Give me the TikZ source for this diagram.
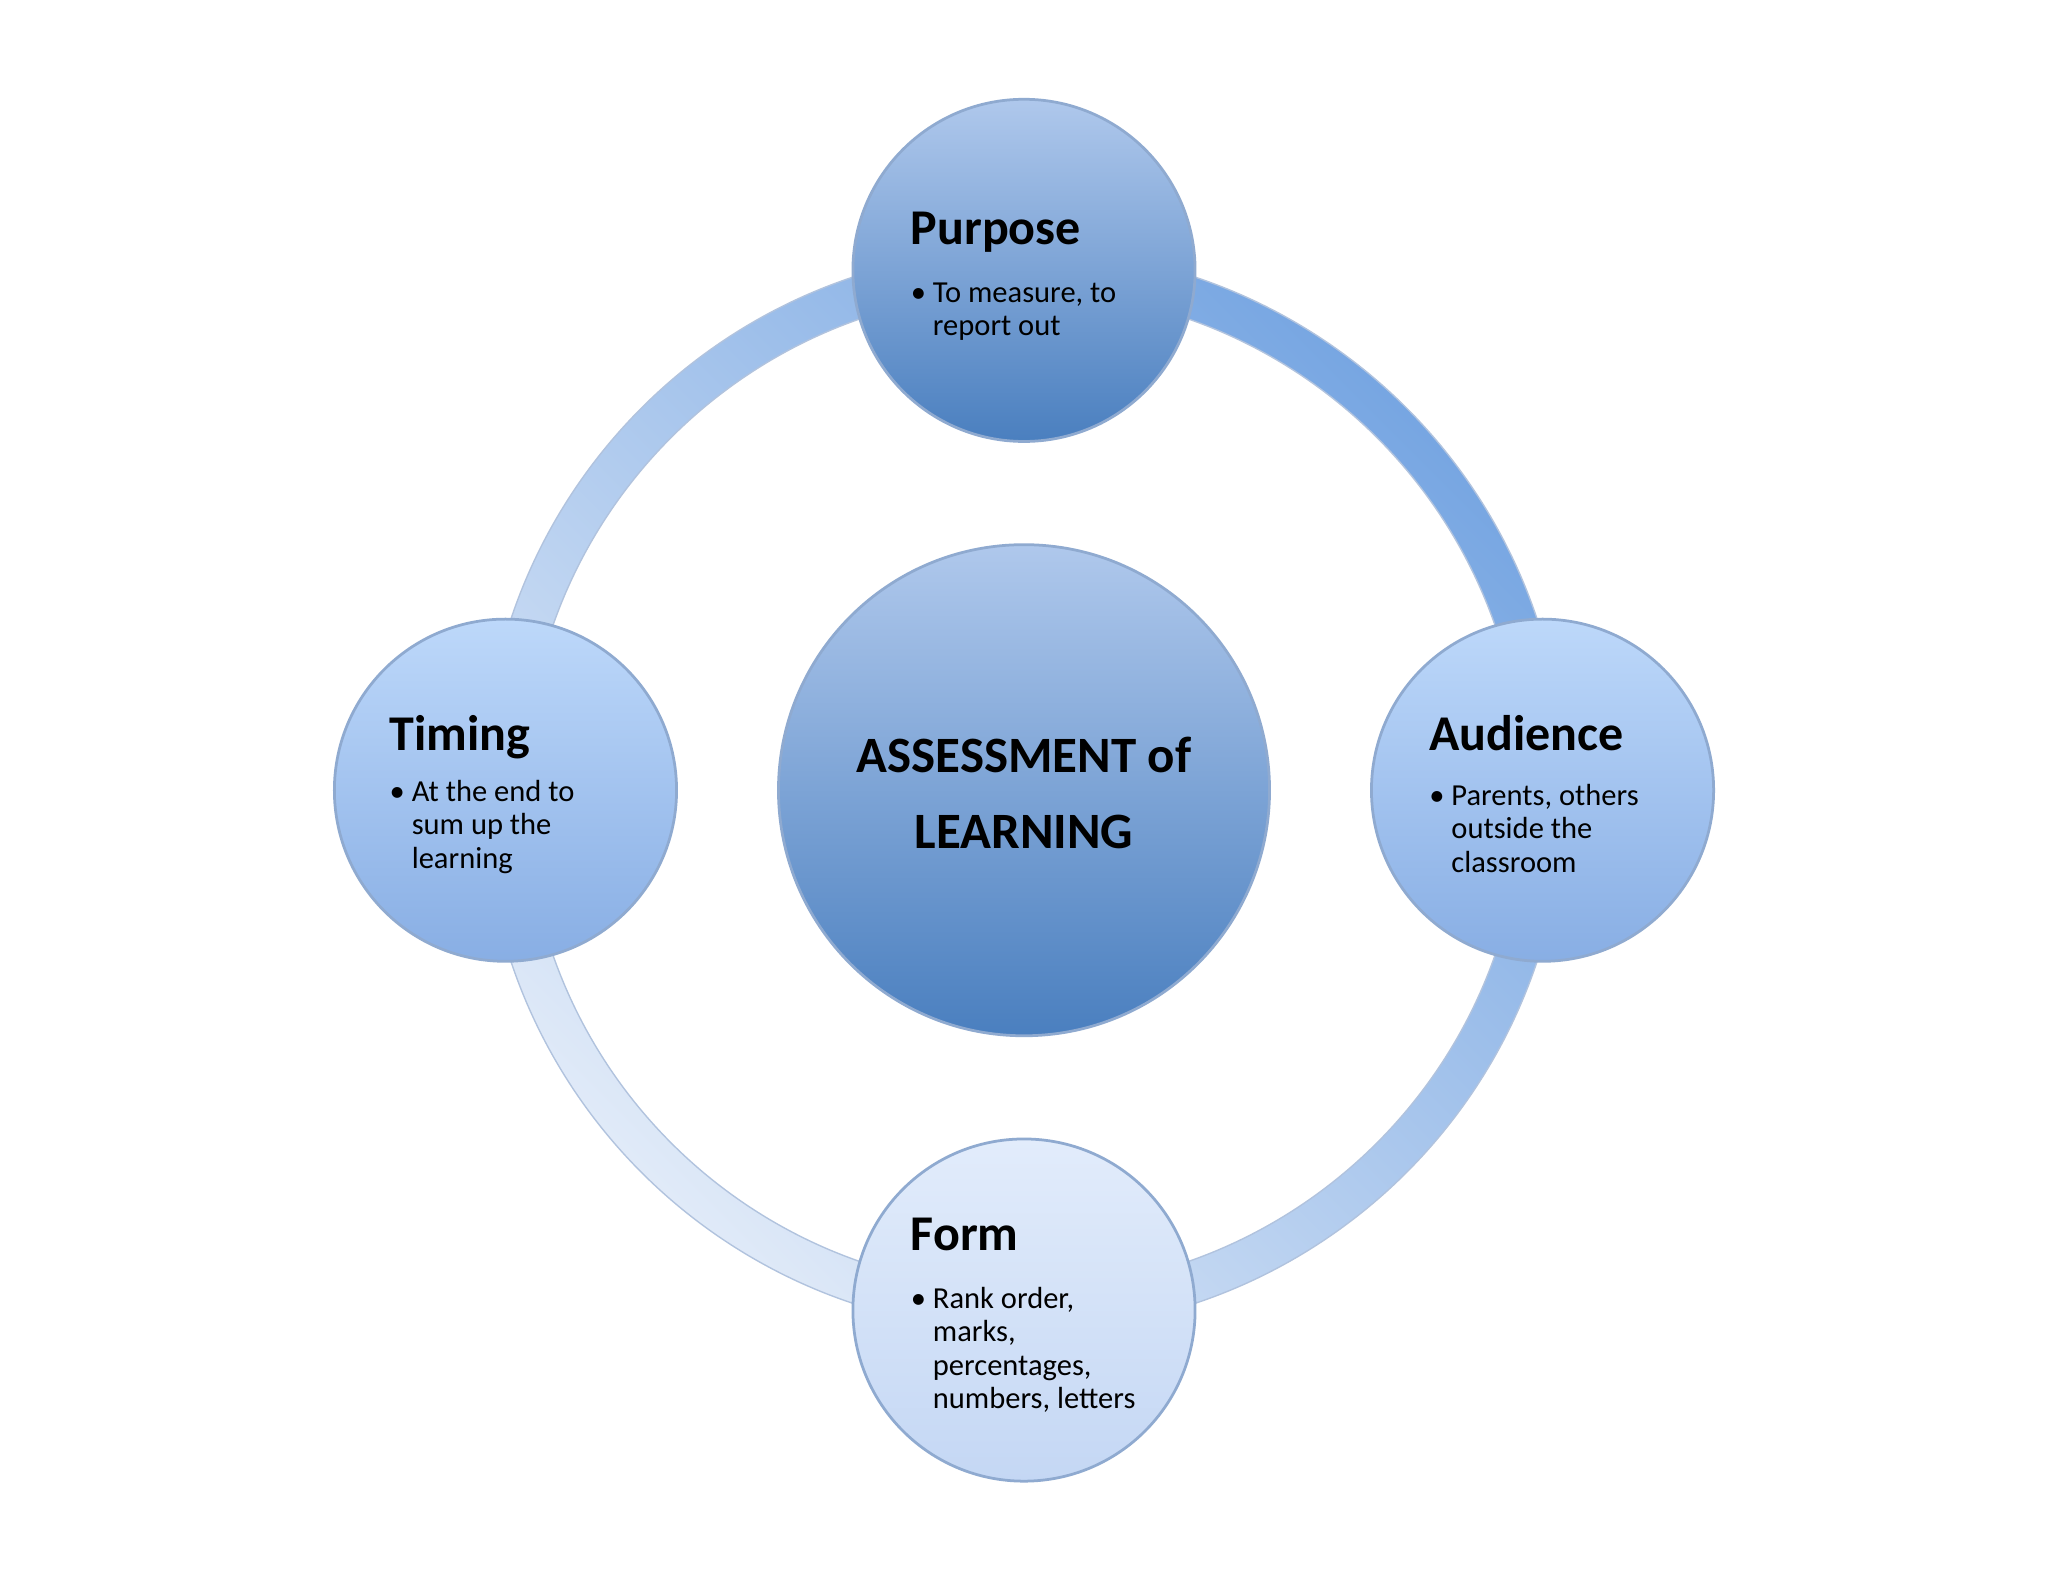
\documentclass[tikz,border=0pt]{standalone}
\usepackage{fontspec}
\setmainfont{Carlito}
\definecolor{dkA}{HTML}{4A7FBF}
\definecolor{ltA}{HTML}{AFC8EC}
\definecolor{dkB}{HTML}{88AEE4}
\definecolor{ltB}{HTML}{BDD8FA}
\definecolor{dkC}{HTML}{C4D7F4}
\definecolor{ltC}{HTML}{E2ECFB}
\definecolor{ringD}{HTML}{77A6E2}
\definecolor{ringL}{HTML}{E0EAF8}
\definecolor{edge}{HTML}{8FAAD0}
\begin{document}
\begin{tikzpicture}[x=0.02cm,y=-0.02cm,
  ball/.style={circle,draw=edge,line width=1.2pt,inner sep=0pt},
  ttl/.style={font=\fontsize{21.8}{24}\selectfont\bfseries,anchor=north west,inner sep=0pt},
  bul/.style={font=\fontsize{13.3}{14.6}\selectfont,anchor=north west,align=left,inner sep=0pt},
  ctr/.style={font=\fontsize{22.2}{33}\selectfont\bfseries,align=center}]
\useasboundingbox (0,0) rectangle (1568,1211);
\fill[white] (0,0) rectangle (1568,1211);
% ring
\shade[even odd rule,left color=ringL,right color=ringD,shading angle=135,draw=edge!70,line width=0.6pt]
  (784,605) circle[radius=414] (784,605) circle[radius=382];
% balls
\shade[ball,top color=ltA,bottom color=dkA] (784,605) circle[radius=188];
\node[ball,minimum size=0pt] (ctr) at (784,605) {};
\shade[ball,top color=ltA,bottom color=dkA] (784,207) circle[radius=131];
\shade[ball,top color=ltB,bottom color=dkB] (387,605) circle[radius=131];
\shade[ball,top color=ltB,bottom color=dkB] (1181,605) circle[radius=131];
\shade[ball,top color=ltC,bottom color=dkC] (784,1003) circle[radius=131];
% text
\node[ctr] (c) at (784,607) {ASSESSMENT of\\LEARNING};
\node[ttl] (pt) at (697,162) {Purpose};
\node[bul] (pb) at (697,216) {\textbullet\ To measure, to\\\hphantom{\textbullet\ }report out};
\node[ttl] (tt) at (298,547) {Timing};
\node[bul] (tb) at (298,597) {\textbullet\ At the end to\\\hphantom{\textbullet\ }sum up the\\\hphantom{\textbullet\ }learning};
\node[ttl] (at) at (1094,547) {Audience};
\node[bul] (ab) at (1094,600) {\textbullet\ Parents, others\\\hphantom{\textbullet\ }outside the\\\hphantom{\textbullet\ }classroom};
\node[ttl] (ft) at (697,932) {Form};
\node[bul] (fb) at (697,985) {\textbullet\ Rank order,\\\hphantom{\textbullet\ }marks,\\\hphantom{\textbullet\ }percentages,\\\hphantom{\textbullet\ }numbers, letters};
\end{tikzpicture}
\end{document}
